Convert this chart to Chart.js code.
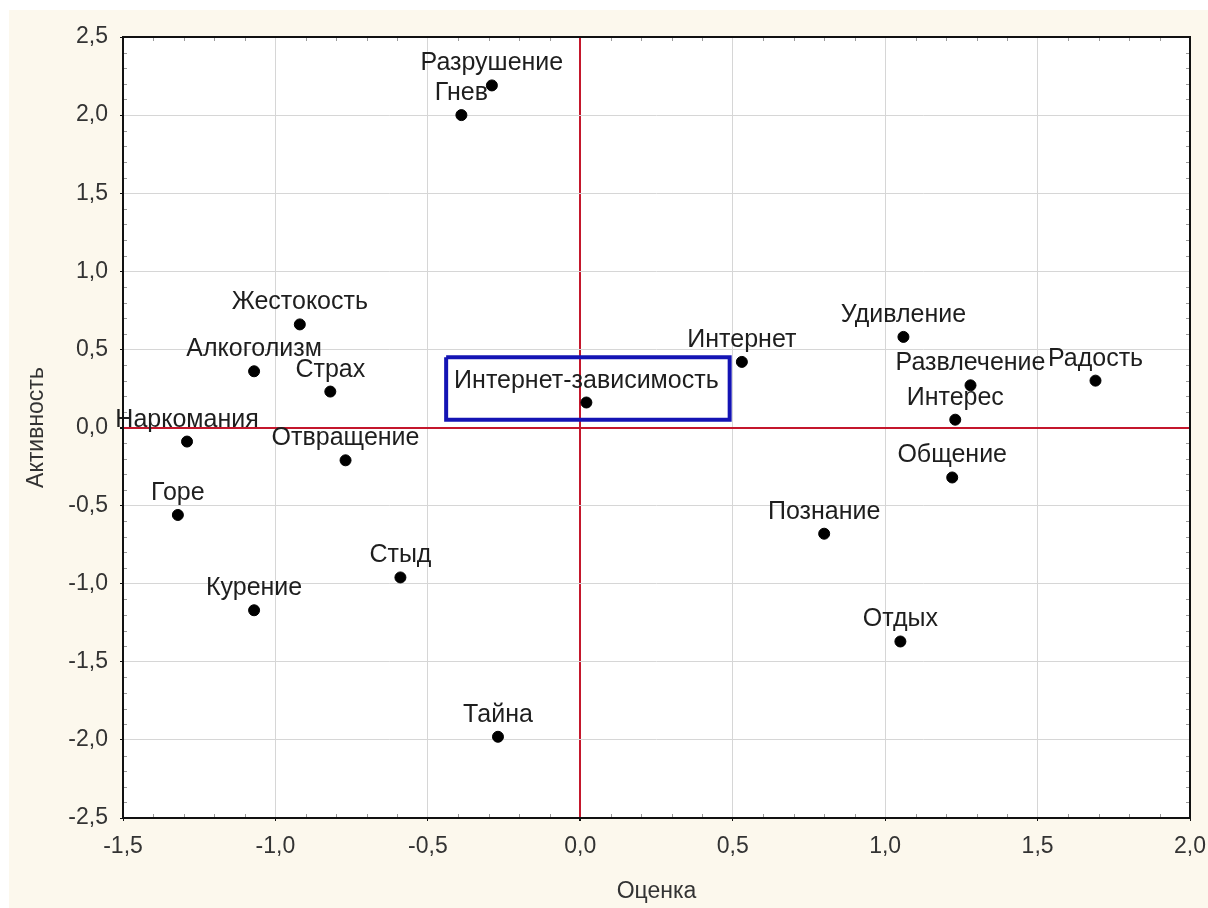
<!DOCTYPE html>
<html>
<head>
<meta charset="utf-8">
<script src="https://cdn.jsdelivr.net/npm/chart.js@4.4.1/dist/chart.umd.min.js"></script>
<style>
  body { margin: 0; background: #fff; }
  #wrap { width: 1208px; height: 908px; }
</style>
</head>
<body>
<div id="wrap"><canvas id="myChart" width="1208" height="908"></canvas></div>
<script>
const ctx = document.getElementById("myChart").getContext("2d");

const names = [
  "Разрушение", "Гнев", "Жестокость", "Алкоголизм", "Страх",
  "Наркомания", "Отвращение", "Горе", "Стыд", "Курение", "Тайна",
  "Интернет-зависимость", "Интернет", "Удивление", "Развлечение",
  "Радость", "Интерес", "Общение", "Познание", "Отдых",
];
const otsenka = [
  -0.29, -0.39, -0.92, -1.07, -0.82,
  -1.29, -0.77, -1.32, -0.59, -1.07, -0.27,
  0.02, 0.53, 1.06, 1.28,
  1.69, 1.23, 1.22, 0.80, 1.05,
];
const aktivnost = [
  2.19, 2.00, 0.66, 0.36, 0.23,
  -0.09, -0.21, -0.56, -0.96, -1.17, -1.98,
  0.16, 0.42, 0.58, 0.27,
  0.30, 0.05, -0.32, -0.68, -1.37,
];
// рамка вокруг "Интернет-зависимость"
const boxX = [-0.44, 0.49, 0.49, -0.44, -0.44];
const boxY = [0.45, 0.45, 0.05, 0.05, 0.45];

const fmt = (v) => v.toFixed(1).replace(".", ",");

const points = names.map((n, i) => ({ x: otsenka[i], y: aktivnost[i] }));
const box = boxX.map((x, i) => ({ x: x, y: boxY[i] }));

const bgPlugin = {
  id: "bg",
  beforeDraw(chart) {
    const c = chart.ctx;
    const a = chart.chartArea;
    c.save();
    c.fillStyle = "#ffffff";
    c.fillRect(0, 0, chart.width, chart.height);
    c.fillStyle = "#fcf8ed";
    c.fillRect(9, 10, chart.width - 9, chart.height - 10);
    c.fillStyle = "#ffffff";
    c.fillRect(a.left, a.top, a.right - a.left, a.bottom - a.top);
    c.restore();
  },
  afterDraw(chart) {
    const c = chart.ctx;
    const a = chart.chartArea;
    const xs = chart.scales.x;
    const ys = chart.scales.y;
    c.save();
    // мелкие засечки внутри рамки
    c.strokeStyle = "#9a9a9a";
    c.lineWidth = 1;
    c.beginPath();
    for (let k = -15; k <= 20; k++) {
      if (k % 5 === 0) continue;
      const px = Math.round(xs.getPixelForValue(k / 10)) + 0.5;
      c.moveTo(px, a.bottom); c.lineTo(px, a.bottom - 4);
      c.moveTo(px, a.top); c.lineTo(px, a.top + 4);
    }
    for (let k = -25; k <= 25; k++) {
      if (k % 5 === 0) continue;
      const py = Math.round(ys.getPixelForValue(k / 10)) + 0.5;
      c.moveTo(a.left, py); c.lineTo(a.left + 4, py);
      c.moveTo(a.right, py); c.lineTo(a.right - 4, py);
    }
    c.stroke();
    c.strokeStyle = "#111";
    c.lineWidth = 2;
    c.strokeRect(a.left, a.top, a.right - a.left, a.bottom - a.top);
    c.restore();
  },
};

const labelPlugin = {
  id: "pointLabels",
  afterDatasetsDraw(chart) {
    const c = chart.ctx;
    const meta = chart.getDatasetMeta(0);
    c.save();
    c.font = "25px 'Liberation Sans', Arial, sans-serif";
    c.fillStyle = "#1e1e1e";
    c.textAlign = "center";
    c.textBaseline = "alphabetic";
    meta.data.forEach((pt, i) => {
      c.fillText(names[i], pt.x, pt.y - 15);
    });
    c.restore();
  },
};

const gridColor = (context) =>
  context.tick && context.tick.value === 0 ? "#c4172c" : "#d6d6d6";
const gridWidth = (context) =>
  context.tick && context.tick.value === 0 ? 2 : 1;

const myChart = new Chart(ctx, {
  type: "scatter",
  data: {
    datasets: [
      {
        data: points,
        backgroundColor: "#000",
        borderColor: "#000",
        pointRadius: 5.5,
        pointHoverRadius: 5.5,
      },
      {
        data: box,
        showLine: true,
        borderColor: "#1414b4",
        borderWidth: 4,
        pointRadius: 0,
        fill: false,
      },
    ],
  },
  plugins: [bgPlugin, labelPlugin],
  options: {
    responsive: false,
    animation: false,
    events: [],
    layout: { padding: { left: 0, top: 37, right: 18, bottom: 0 } },
    plugins: {
      legend: { display: false },
      tooltip: { enabled: false },
    },
    scales: {
      x: {
        type: "linear",
        min: -1.5,
        max: 2.0,
        afterFit(scale) {
          scale.height = 90;
          scale.paddingLeft = 0;
          scale.paddingRight = 0;
        },
        ticks: {
          stepSize: 0.5,
          padding: 12,
          color: "#333",
          font: { family: "'Liberation Sans', Arial, sans-serif", size: 23 },
          callback: fmt,
        },
        grid: {
          color: gridColor,
          lineWidth: gridWidth,
          tickLength: 3,
          tickColor: "#111",
        },
        border: { display: false },
        title: {
          display: true,
          text: "Оценка",
          color: "#333",
          font: { family: "'Liberation Sans', Arial, sans-serif", size: 23 },
          padding: { top: 0, bottom: 3 },
        },
      },
      y: {
        type: "linear",
        min: -2.5,
        max: 2.5,
        afterFit(scale) {
          scale.width = 123;
          scale.paddingTop = 0;
          scale.paddingBottom = 0;
        },
        ticks: {
          stepSize: 0.5,
          padding: 12,
          color: "#333",
          font: { family: "'Liberation Sans', Arial, sans-serif", size: 23 },
          callback: fmt,
        },
        grid: {
          color: gridColor,
          lineWidth: gridWidth,
          tickLength: 3,
          tickColor: "#111",
        },
        border: { display: false },
        title: {
          display: true,
          text: "Активность",
          color: "#333",
          font: { family: "'Liberation Sans', Arial, sans-serif", size: 23 },
          padding: { top: 23, bottom: 0 },
        },
      },
    },
  },
});
</script>
</body>
</html>
